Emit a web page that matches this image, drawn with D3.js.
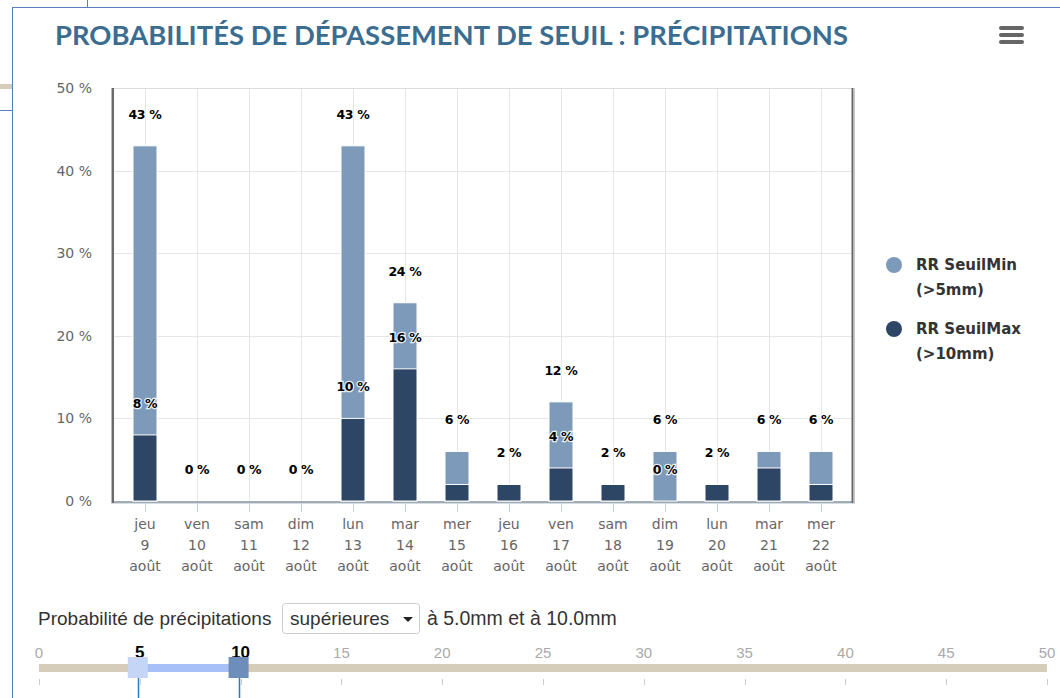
<!DOCTYPE html>
<html>
<head>
<meta charset="utf-8">
<script src="https://cdn.jsdelivr.net/npm/d3@7"></script>
<style>
  body { margin: 0; background: #fff; }
  svg { display: block; }
</style>
</head>
<body>
<svg id="chart" width="1060" height="698"></svg>
<script>
// jours affiches sur l'axe x
var days = ["jeu", "ven", "sam", "dim", "lun", "mar", "mer", "jeu", "ven", "sam", "dim", "lun", "mar", "mer"];
var dates = ["9", "10", "11", "12", "13", "14", "15", "16", "17", "18", "19", "20", "21", "22"];
var month = "août";

// probabilites (%)
var seuilMin = [43, 0, 0, 0, 43, 24, 6, 2, 12, 2, 6, 2, 6, 6];
var seuilMax = [8, 0, 0, 0, 10, 16, 2, 2, 4, 2, 0, 2, 4, 2];
// etiquettes SeuilMax masquees par le graphique d'origine
var maxLabelShown = [1, 1, 1, 1, 1, 1, 0, 1, 1, 1, 1, 1, 0, 0];

var yTicks = [0, 10, 20, 30, 40, 50];
var seriesNames = [["RR SeuilMin", "(>5mm)"], ["RR SeuilMax", "(>10mm)"]];

// slider
var sliderTicks = [0, 5, 10, 15, 20, 25, 30, 35, 40, 45, 50];
var sliderRange = [5, 10];

var colMin = "#7e9aba";
var colMax = "#2d4666";
var labelFont = "'DejaVu Sans', Verdana, sans-serif";

var svg = d3.select("#chart");

// cadre de la page autour du widget
svg.append("line").attr("x1", 87.5).attr("x2", 87.5).attr("y1", 0).attr("y2", 7)
  .attr("stroke", "#5a7fc0").attr("stroke-width", 1);
svg.append("line").attr("x1", 12.5).attr("x2", 1060).attr("y1", 7.5).attr("y2", 7.5)
  .attr("stroke", "#5a7fc0").attr("stroke-width", 1);
svg.append("line").attr("x1", 12.5).attr("x2", 12.5).attr("y1", 7).attr("y2", 698)
  .attr("stroke", "#5a7fc0").attr("stroke-width", 1);
svg.append("rect").attr("x", 0).attr("y", 84).attr("width", 12).attr("height", 5).attr("fill", "#d5ccb9");
svg.append("line").attr("x1", 0).attr("x2", 12).attr("y1", 110.5).attr("y2", 110.5)
  .attr("stroke", "#5a7fc0").attr("stroke-width", 1);

// titre
svg.append("text")
  .attr("x", 55).attr("y", 45)
  .style("font-family", "Lato, 'Open Sans', sans-serif")
  .style("font-weight", "bold")
  .style("font-size", "27px")
  .attr("fill", "#3b6d91")
  .attr("textLength", 793)
  .attr("lengthAdjust", "spacingAndGlyphs")
  .text("PROBABILITÉS DE DÉPASSEMENT DE SEUIL : PRÉCIPITATIONS");

// menu
[26, 33, 40].forEach(function(y) {
  svg.append("rect").attr("x", 999).attr("y", y).attr("width", 25).attr("height", 4)
    .attr("rx", 2).attr("fill", "#666");
});

// zone de trace
var plot_l = 111, plot_r = 853, plot_t = 88, plot_b = 502;

var x = d3.scalePoint().domain(d3.range(days.length)).range([145, 821]);
var y = d3.scaleLinear().domain([0, 50]).range([501, 88]);

svg.append("rect")
  .attr("x", plot_l).attr("y", plot_t)
  .attr("width", plot_r - plot_l).attr("height", plot_b - plot_t)
  .attr("fill", "#fff");

// grille horizontale
svg.append("g").selectAll("line").data(yTicks).join("line")
  .attr("x1", plot_l).attr("x2", plot_r)
  .attr("y1", function(d) { return Math.round(y(d)) + 0.5; })
  .attr("y2", function(d) { return Math.round(y(d)) + 0.5; })
  .attr("stroke", "#e6e6e6");

// grille verticale
svg.append("g").selectAll("line").data(d3.range(days.length)).join("line")
  .attr("x1", function(d) { return x(d) + 0.5; })
  .attr("x2", function(d) { return x(d) + 0.5; })
  .attr("y1", plot_t).attr("y2", plot_b)
  .attr("stroke", "#e6e6e6");

// bordure du trace
svg.append("line").attr("x1", plot_l).attr("x2", plot_r).attr("y1", plot_t + 0.5).attr("y2", plot_t + 0.5)
  .attr("stroke", "#dcdcdc");
svg.append("line").attr("x1", plot_l).attr("x2", plot_r + 2).attr("y1", plot_b + 1).attr("y2", plot_b + 1)
  .attr("stroke", "#d8dde3").attr("stroke-width", 2);
svg.append("line").attr("x1", plot_l).attr("x2", plot_r).attr("y1", plot_b).attr("y2", plot_b)
  .attr("stroke", "#8e99a6").attr("stroke-width", 1.5);
svg.append("line").attr("x1", plot_l + 0.5).attr("x2", plot_l + 0.5).attr("y1", plot_t).attr("y2", plot_b + 1)
  .attr("stroke", "#bbb").attr("stroke-width", 1);
svg.append("line").attr("x1", plot_l + 2).attr("x2", plot_l + 2).attr("y1", plot_t).attr("y2", plot_b + 1)
  .attr("stroke", "#6a6a6a").attr("stroke-width", 2);
svg.append("line").attr("x1", plot_r - 0.5).attr("x2", plot_r - 0.5).attr("y1", plot_t).attr("y2", plot_b + 1)
  .attr("stroke", "#6a6a6a").attr("stroke-width", 2);
svg.append("line").attr("x1", plot_r + 1.5).attr("x2", plot_r + 1.5).attr("y1", plot_t).attr("y2", plot_b + 2)
  .attr("stroke", "#c8c8c8").attr("stroke-width", 1);

// barres (superposees, SeuilMin derriere)
var barW = 24;
svg.append("g").selectAll("rect").data(seuilMin).join("rect")
  .attr("x", function(d, i) { return x(i) - barW / 2; })
  .attr("y", function(d) { return y(d); })
  .attr("width", barW)
  .attr("height", function(d) { return y(0) - y(d); })
  .attr("fill", colMin)
  .attr("stroke", "#fff").attr("stroke-width", 1);

svg.append("g").selectAll("rect").data(seuilMax).join("rect")
  .attr("x", function(d, i) { return x(i) - barW / 2; })
  .attr("y", function(d) { return y(d); })
  .attr("width", barW)
  .attr("height", function(d) { return y(0) - y(d); })
  .attr("fill", colMax)
  .attr("stroke", "#fff").attr("stroke-width", 1);

// etiquettes des barres
function drawLabels(values, shown) {
  var g = svg.append("g");
  values.forEach(function(v, i) {
    if (shown && !shown[i]) return;
    g.append("text")
      .attr("x", x(i))
      .attr("y", y(v) - 27)
      .attr("text-anchor", "middle")
      .style("font-family", labelFont)
      .style("font-weight", "bold")
      .style("font-size", "12.5px")
      .style("letter-spacing", "-0.3px")
      .attr("fill", "#000")
      .attr("stroke", "#fff")
      .attr("stroke-width", 2.5)
      .attr("stroke-opacity", 0.85)
      .attr("paint-order", "stroke")
      .text(v + " %");
  });
}
drawLabels(seuilMin, null);
drawLabels(seuilMax, maxLabelShown);

// axe y
svg.append("g").selectAll("text").data(yTicks).join("text")
  .attr("x", 92).attr("y", function(d) { return y(d) + 5; })
  .attr("text-anchor", "end")
  .style("font-family", labelFont)
  .style("font-size", "14px")
  .attr("fill", "#666")
  .text(function(d) { return d + " %"; });

// axe x
var xg = svg.append("g").selectAll("g").data(d3.range(days.length)).join("g")
  .attr("transform", function(d) { return "translate(" + x(d) + ",0)"; });
xg.append("line").attr("x1", 0.5).attr("x2", 0.5).attr("y1", 503).attr("y2", 512)
  .attr("stroke", "#c0d0e0");
xg.append("text").attr("text-anchor", "middle")
  .style("font-family", labelFont).style("font-size", "14px").attr("fill", "#666")
  .selectAll("tspan")
  .data(function(d) { return [days[d], dates[d], month]; })
  .join("tspan")
  .attr("x", 0)
  .attr("y", function(d, k) { return 529 + k * 21; })
  .text(function(d) { return d; });

// legende
seriesNames.forEach(function(s, i) {
  var ly = 265 + i * 64;
  svg.append("circle").attr("cx", 894).attr("cy", ly).attr("r", 8)
    .attr("fill", i === 0 ? colMin : colMax);
  svg.append("text").attr("x", 916)
    .style("font-family", labelFont).style("font-weight", "bold").style("font-size", "15px")
    .attr("fill", "#333")
    .selectAll("tspan").data(s).join("tspan")
    .attr("x", 916)
    .attr("y", function(d, k) { return ly + 5 + k * 25; })
    .text(function(d) { return d; });
});

// controles du bas
var ctlFont = "'Liberation Sans', Arial, sans-serif";
svg.append("text").attr("x", 38).attr("y", 625)
  .style("font-family", ctlFont).style("font-size", "19px").attr("fill", "#333")
  .text("Probabilité de précipitations");
svg.append("rect").attr("x", 282.5).attr("y", 603.5).attr("width", 137).attr("height", 30)
  .attr("rx", 3).attr("fill", "#fff").attr("stroke", "#ccc");
svg.append("text").attr("x", 290).attr("y", 625)
  .style("font-family", ctlFont).style("font-size", "19px").attr("fill", "#333")
  .text("supérieures");
svg.append("path").attr("d", "M403,617 L413,617 L408,622 Z").attr("fill", "#222");
svg.append("text").attr("x", 427).attr("y", 625)
  .style("font-family", ctlFont).style("font-size", "19.5px").attr("fill", "#333")
  .text("à 5.0mm et à 10.0mm");

// slider
var sx = d3.scaleLinear().domain([0, 50]).range([39, 1047]);
svg.append("rect").attr("x", sx(0)).attr("y", 664).attr("width", sx(50) - sx(0)).attr("height", 8)
  .attr("fill", "#d5ccb9");
svg.append("rect").attr("x", sx(sliderRange[0])).attr("y", 664)
  .attr("width", sx(sliderRange[1]) - sx(sliderRange[0])).attr("height", 8)
  .attr("fill", "#a7c0f6");
svg.append("g").selectAll("line").data(sliderTicks).join("line")
  .attr("x1", function(d) { return Math.round(sx(d)) + 0.5; })
  .attr("x2", function(d) { return Math.round(sx(d)) + 0.5; })
  .attr("y1", 679).attr("y2", 685)
  .attr("stroke", "#ccc");
svg.append("g").selectAll("text").data(sliderTicks).join("text")
  .attr("x", function(d) { return sx(d); })
  .attr("y", 658)
  .attr("text-anchor", "middle")
  .style("font-family", ctlFont)
  .style("font-size", function(d) { return sliderRange.indexOf(d) >= 0 ? "17px" : "15px"; })
  .style("font-weight", function(d) { return sliderRange.indexOf(d) >= 0 ? "bold" : "normal"; })
  .attr("fill", function(d) { return sliderRange.indexOf(d) >= 0 ? "#000" : "#aaa"; })
  .text(function(d) { return d; });
sliderRange.forEach(function(v, i) {
  var cx = sx(v) - 2;
  svg.append("line").attr("x1", Math.round(cx) + 0.5).attr("x2", Math.round(cx) + 0.5)
    .attr("y1", 677).attr("y2", 698).attr("stroke", "#2b7bb9").attr("stroke-width", 1.5);
  svg.append("rect").attr("x", cx - 10).attr("y", 657).attr("width", 20).attr("height", 21)
    .attr("fill", i === 0 ? "#c4d5f6" : "#6d8dba");
});
</script>
</body>
</html>
